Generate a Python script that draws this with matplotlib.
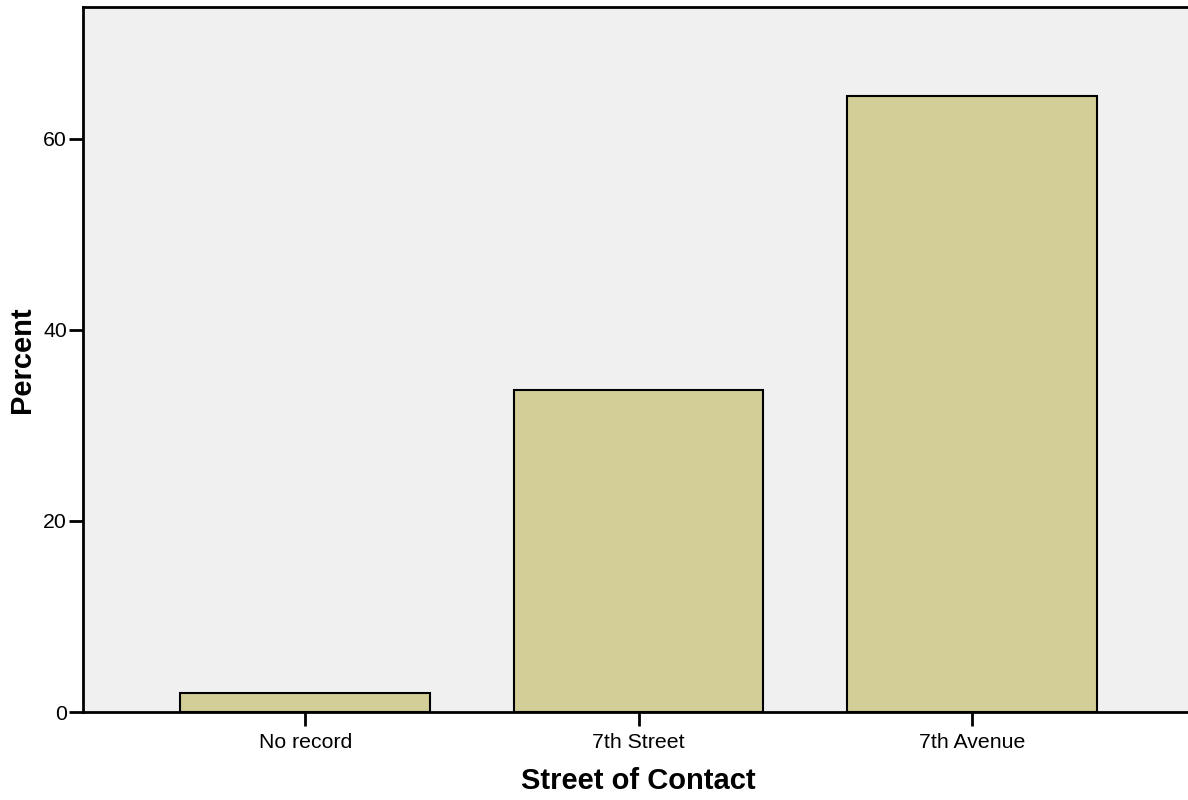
import matplotlib.pyplot as plt
import numpy as np

plt.rcParams['font.family'] = ['Liberation Sans', 'DejaVu Sans']

categories = ['No record', '7th Street', '7th Avenue']
percent = [2.0, 33.7, 64.5]
yticks = [0, 20, 40, 60]

fig = plt.figure(figsize=(11.88, 8), dpi=100)
# axes runs slightly past the right edge, like the original export
ax = fig.add_axes([83 / 1188, 88 / 800, (1194 - 83) / 1188, (712 - 7) / 800])
ax.set_facecolor('#f0f0f0')

x = np.arange(len(categories))
ax.bar(x, percent, width=0.75, color='#d3ce98', edgecolor='black', linewidth=1.5, zorder=2)

ax.set_xlim(-0.667, 2.667)
ax.set_ylim(0, 73.8)
ax.set_xticks(x)
ax.set_xticklabels(categories)
ax.set_yticks(yticks)

ax.tick_params(axis='both', direction='out', length=10, width=2, labelsize=15.3, color='black')
ax.tick_params(axis='x', pad=5)
ax.tick_params(axis='y', pad=1.5)
for side in ['left', 'bottom', 'top', 'right']:
    ax.spines[side].set_linewidth(2)

ax.set_xlabel('Street of Contact', fontsize=21, fontweight='bold', labelpad=11)
ax.set_ylabel('Percent', fontsize=21, fontweight='bold', va='center')
ax.yaxis.set_label_coords(-(83 - 22) / 1111, 0.5)

fig.savefig('out.png', dpi=100)
